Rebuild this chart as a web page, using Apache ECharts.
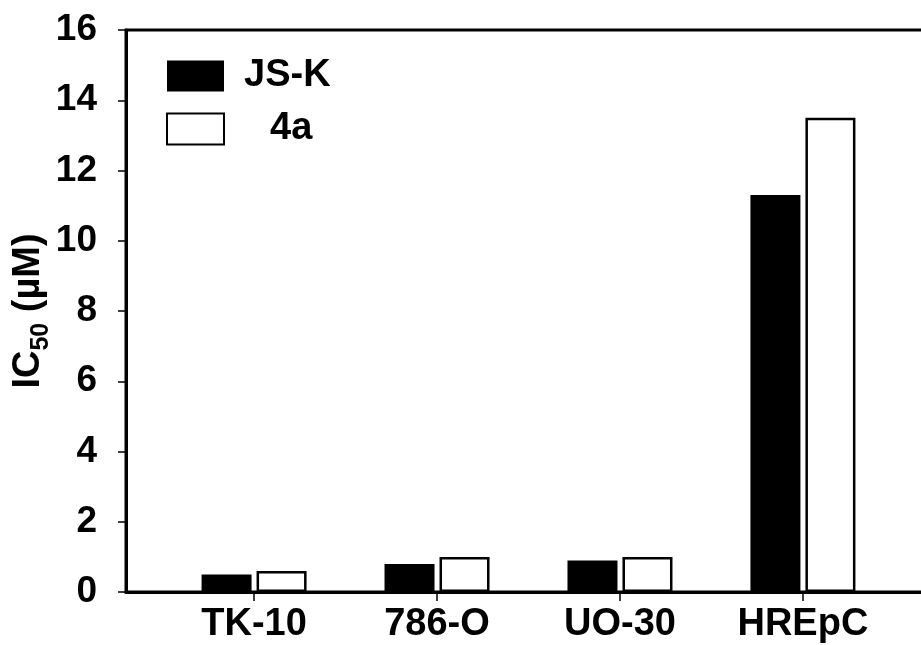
<!DOCTYPE html>
<html>
<head>
<meta charset="utf-8">
<script src="https://cdn.jsdelivr.net/npm/echarts@6/dist/echarts.min.js"></script>
<style>
  html, body { margin: 0; padding: 0; background: #fff; }
  #chart { width: 921px; height: 645px; }
</style>
</head>
<body>
<div id="chart"></div>
<script>
// cell lines, placed at x = 1..4 on the axis
const categories = ['TK-10', '786-O', 'UO-30', 'HREpC']
const positions = [1, 2, 3, 4]
// IC50 values (uM)
const jskValues = [0.5, 0.8, 0.9, 11.3]
const a4Values = [0.6, 1.0, 1.0, 13.5]
const yTicks = [0, 2, 4, 6, 8, 10, 12, 14, 16]

const font = 'Liberation Sans, Arial, sans-serif'
const chart = echarts.init(document.getElementById('chart'))

const option = {
  backgroundColor: '#fff',
  animation: false,
  grid: {
    left: 126,
    top: 30,
    width: 805, // frame runs past the right edge, no right border visible
    bottom: 53,
    outerBoundsMode: 'none',
    containLabel: false,
    show: true,
    borderColor: '#000',
    borderWidth: 3,
    backgroundColor: 'transparent'
  },
  legend: {
    orient: 'vertical',
    left: 161,
    top: 52,
    icon: 'rect',
    itemWidth: 57,
    itemHeight: 31,
    itemGap: 15,
    textStyle: {
      fontFamily: font,
      fontWeight: 'bold',
      fontSize: 38,
      color: '#000',
      padding: [0, 0, 0, 15]
    },
    data: [
      'JS-K',
      // second entry sits indented in the original
      { name: '4a', textStyle: { padding: [0, 0, 0, 41] } }
    ]
  },
  xAxis: {
    type: 'value',
    min: 0.3,
    max: 4.7,
    splitLine: { show: false },
    axisLine: { lineStyle: { color: '#000', width: 3 } },
    axisTick: {
      customValues: positions,
      length: 9,
      lineStyle: { color: '#000', width: 1.5 }
    },
    axisLabel: {
      customValues: positions,
      margin: 14,
      formatter: function(v) {
        return categories[Math.round(v) - 1]
      },
      fontFamily: font,
      fontWeight: 'bold',
      fontSize: 38,
      color: '#000'
    }
  },
  yAxis: {
    type: 'value',
    min: yTicks[0],
    max: yTicks[yTicks.length - 1],
    interval: 2,
    splitLine: { show: false },
    axisLine: { show: true, lineStyle: { color: '#000', width: 3 } },
    axisTick: { show: true, length: 8, lineStyle: { color: '#000', width: 1.5 } },
    axisLabel: {
      margin: 29,
      fontFamily: font,
      fontWeight: 'bold',
      fontSize: 37,
      color: '#000'
    },
    name: '{a|IC}{s|50}{a| (µM)}',
    nameLocation: 'middle',
    nameGap: 75,
    nameMoveOverlap: false,
    nameRotate: 90,
    nameTextStyle: {
      rich: {
        a: {
          fontFamily: font,
          fontWeight: 'bold',
          fontSize: 38,
          color: '#000',
          lineHeight: 44,
          verticalAlign: 'middle'
        },
        s: {
          fontFamily: font,
          fontWeight: 'bold',
          fontSize: 25,
          color: '#000',
          lineHeight: 25,
          padding: [24, 0, 0, 0],
          verticalAlign: 'middle'
        }
      }
    }
  },
  series: [
    {
      name: 'JS-K',
      type: 'bar',
      barWidth: 50,
      barGap: '10%',
      itemStyle: { color: '#000' },
      data: positions.map((p, i) => [p, jskValues[i]])
    },
    {
      name: '4a',
      type: 'bar',
      barWidth: 50,
      barGap: '10%',
      itemStyle: { color: '#fff', borderColor: '#000', borderWidth: 2.5 },
      data: positions.map((p, i) => [p, a4Values[i]])
    }
  ]
}

chart.setOption(option)
</script>
</body>
</html>
